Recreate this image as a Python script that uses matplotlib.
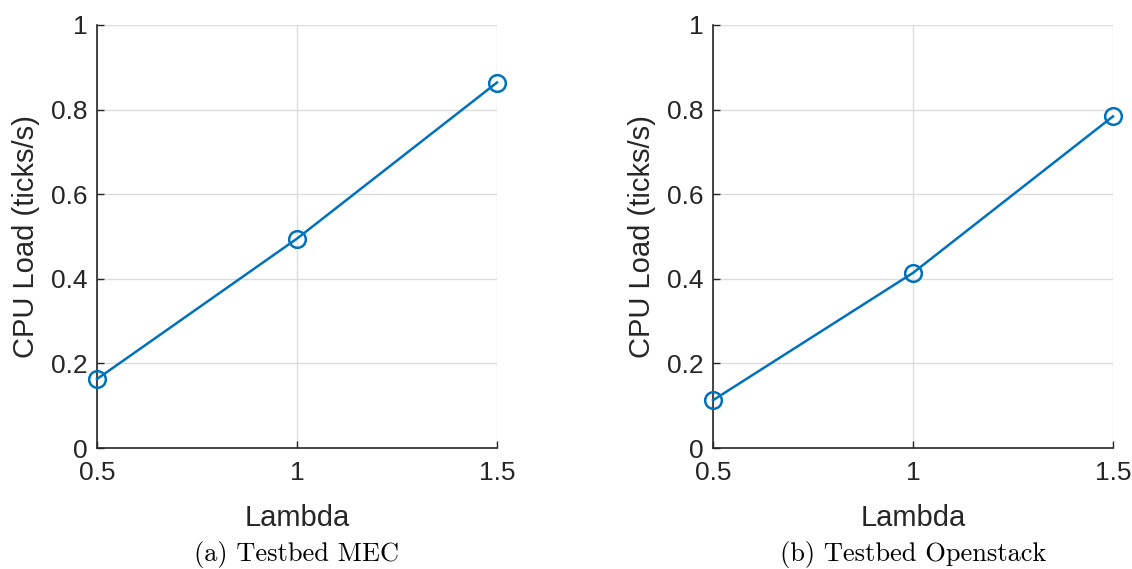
import matplotlib
matplotlib.use('Agg')
import matplotlib.pyplot as plt

lam = [0.5, 1.0, 1.5]
cpu_mec = [0.163, 0.495, 0.864]
cpu_openstack = [0.113, 0.414, 0.784]
captions = ['(a) Testbed MEC', '(b) Testbed Openstack']

plt.rcParams['font.family'] = ['Liberation Sans', 'DejaVu Sans']

fig = plt.figure(figsize=(11.32, 5.69), dpi=100)
lefts = [97 / 1132, 713 / 1132]
series = [cpu_mec, cpu_openstack]

for left, ys, cap in zip(lefts, series, captions):
    ax = fig.add_axes([left, 121 / 569, 400 / 1132, 423 / 569])
    ax.plot(lam, ys, '-o', color='#0072BD', lw=1.8, ms=12,
            mfc='none', mew=1.8, clip_on=False, zorder=3)
    ax.set_xlim(0.5, 1.5)
    ax.set_ylim(0, 1)
    ax.set_xticks([0.5, 1, 1.5])
    ax.set_xticklabels(['0.5', '1', '1.5'])
    ax.set_yticks([0, 0.2, 0.4, 0.6, 0.8, 1])
    ax.set_yticklabels(['0', '0.2', '0.4', '0.6', '0.8', '1'])
    ax.grid(True, color='#dcdcdc', lw=1.0)
    ax.set_axisbelow(True)
    for s in ['top', 'right']:
        ax.spines[s].set_visible(False)
    for s in ['left', 'bottom']:
        ax.spines[s].set_color('#262626')
        ax.spines[s].set_linewidth(1.2)
    ax.tick_params(direction='in', length=5, width=1.0, colors='#262626',
                   labelsize=19, labelcolor='#262626')
    ax.tick_params(axis='x', pad=9)
    ax.tick_params(axis='y', pad=7)
    ax.set_xlabel('Lambda', fontsize=21, color='#262626', labelpad=14)
    ax.set_ylabel('CPU Load (ticks/s)', fontsize=21, color='#262626', labelpad=8)
    fig.text(left + 200 / 1132, 1 - 555 / 569, cap, ha='center', va='center',
             fontsize=19, family='cmr10')

fig.savefig('out.png', dpi=100)
